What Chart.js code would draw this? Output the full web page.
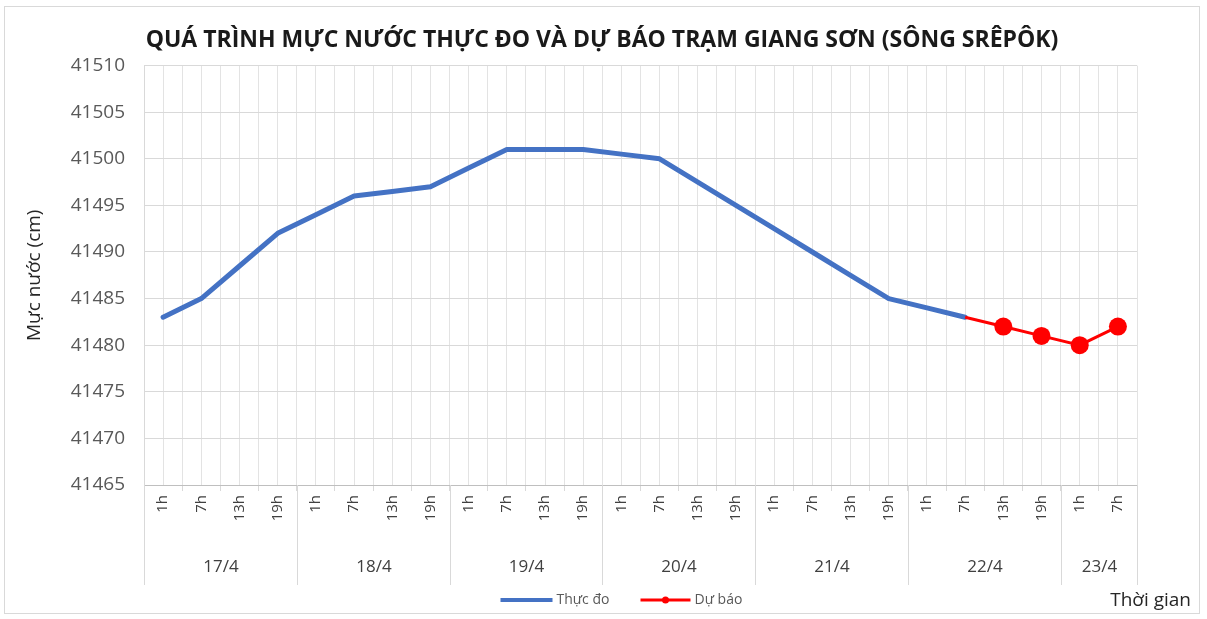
<!DOCTYPE html>
<html>
<head>
<meta charset="utf-8">
<script src="https://cdn.jsdelivr.net/npm/chart.js@4.4.1/dist/chart.umd.min.js"></script>
<style>
  html, body { margin: 0; padding: 0; background: #fff; }
  #wrap { position: absolute; left: 4px; top: 6px; width: 1196px; height: 608px;
          border: 1px solid #d9d9d9; box-sizing: border-box; }
  canvas { display: block; }
</style>
</head>
<body>
<div id="wrap"><canvas id="chart"></canvas></div>
<script>
/* ── data ─────────────────────────────────────────────────────────────── */
const hours = ['1h','7h','13h','19h', '1h','7h','13h','19h', '1h','7h','13h','19h',
               '1h','7h','13h','19h', '1h','7h','13h','19h', '1h','7h','13h','19h',
               '1h','7h'];
const days      = ['17/4','18/4','19/4','20/4','21/4','22/4','23/4'];
const dayCounts = [4, 4, 4, 4, 4, 4, 2];

const observed = [41483, 41485, 41488.5, 41492, 41494, 41496, 41496.5, 41497,
                  41499, 41501, 41501, 41501, 41500.5, 41500, 41497.5, 41495,
                  41492.5, 41490, 41487.5, 41485, 41484, 41483,
                  null, null, null, null];
const forecast = [null, null, null, null, null, null, null, null, null, null, null,
                  null, null, null, null, null, null, null, null, null, null,
                  41483, 41482, 41481, 41480, 41482];

const yMin = 41465, yMax = 41510, yStep = 5;

const TITLE  = 'QUÁ TRÌNH MỰC NƯỚC THỰC ĐO VÀ DỰ BÁO TRẠM GIANG SƠN (SÔNG SRÊPÔK)';
const Y_NAME = 'Mực nước (cm)';
const X_NAME = 'Thời gian';
const NAMES  = ['Thực đo', 'Dự báo'];

const BLUE = '#4472C4', RED = '#FF0000';
const FONT = '"Open Sans", "Noto Sans", sans-serif';
const firstForecast = forecast.findIndex(v => v !== null);

/* ── day groups, legend and axis name under the category axis ─────────── */
const groupAxis = {
  id: 'groupAxis',
  afterDraw(chart) {
    const { ctx, chartArea: a, scales: { x } } = chart;
    const step = x.getPixelForValue(1) - x.getPixelForValue(0);
    const top = a.bottom, bot = a.bottom + 100;

    ctx.save();
    ctx.strokeStyle = '#d9d9d9';
    ctx.lineWidth = 1;
    ctx.fillStyle = '#404040';
    ctx.font = '17px ' + FONT;
    ctx.textAlign = 'center';
    ctx.textBaseline = 'middle';

    let idx = 0;
    const edge = i => Math.round(x.getPixelForValue(i) - step / 2) + 0.5;
    ctx.beginPath(); ctx.moveTo(edge(0), top); ctx.lineTo(edge(0), bot); ctx.stroke();
    days.forEach((d, k) => {
      const l = edge(idx), r = edge(idx + dayCounts[k]);
      ctx.beginPath(); ctx.moveTo(r, top); ctx.lineTo(r, bot); ctx.stroke();
      ctx.fillText(d, (l + r) / 2, a.bottom + 82);
      idx += dayCounts[k];
    });

    // legend
    const ly = a.bottom + 115;
    ctx.font = '14px ' + FONT;
    ctx.textAlign = 'left';
    ctx.fillStyle = '#595959';
    let lx = (a.left + a.right) / 2 - 140;
    ctx.lineCap = 'butt';
    ctx.strokeStyle = BLUE; ctx.lineWidth = 4;
    ctx.beginPath(); ctx.moveTo(lx, ly); ctx.lineTo(lx + 52, ly); ctx.stroke();
    ctx.fillText(NAMES[0], lx + 56, ly);
    lx += 140;
    ctx.strokeStyle = RED; ctx.lineWidth = 3;
    ctx.beginPath(); ctx.moveTo(lx, ly); ctx.lineTo(lx + 50, ly); ctx.stroke();
    ctx.fillStyle = RED;
    ctx.beginPath(); ctx.arc(lx + 25, ly, 3.5, 0, Math.PI * 2); ctx.fill();
    ctx.fillStyle = '#595959';
    ctx.fillText(NAMES[1], lx + 54, ly);

    // axis name
    ctx.font = '19px ' + FONT;
    ctx.textAlign = 'right';
    ctx.fillStyle = '#262626';
    ctx.fillText(X_NAME, chart.width - 8, ly + 1);
    ctx.restore();
  }
};

/* ── chart ─────────────────────────────────────────────────────────────── */
new Chart(document.getElementById('chart'), {
  type: 'line',
  data: {
    labels: hours,
    datasets: [
      {
        label: NAMES[1], data: forecast, order: 0,
        borderColor: RED, backgroundColor: RED, borderWidth: 3,
        pointRadius: c => (c.dataIndex === firstForecast ? 0 : 9),
        pointHoverRadius: 9, pointBorderWidth: 0,
        tension: 0,
      },
      {
        label: NAMES[0], data: observed, order: 1,
        borderColor: BLUE, backgroundColor: BLUE, borderWidth: 5,
        pointRadius: 0, tension: 0,
        borderJoinStyle: 'round', borderCapStyle: 'round',
      },
    ],
  },
  options: {
    responsive: true, maintainAspectRatio: false, animation: false,
    layout: { padding: { left: 0, right: 0, top: 0, bottom: 28 } },
    plugins: {
      legend: { display: false },
      tooltip: { enabled: false },
      title: {
        display: true, text: TITLE, color: '#1a1a1a',
        font: { family: FONT, size: 23, weight: 'bold' },
        padding: { top: 20, bottom: 11 },
      },
    },
    scales: {
      x: {
        offset: true,
        grid: { offset: true, color: '#e3e3e3', tickLength: 6, tickColor: '#d9d9d9' },
        border: { color: '#bfbfbf' },
        ticks: {
          autoSkip: false, minRotation: 90, maxRotation: 90, padding: 4,
          color: '#404040', font: { family: FONT, size: 15 },
        },
        afterFit: s => { s.height = 100; },
      },
      x2: {
        offset: true, position: 'bottom',
        grid: { offset: false, color: '#e3e3e3', drawTicks: false },
        border: { display: false },
        ticks: { display: false },
        afterFit: s => { s.height = 0; },
      },
      y: {
        min: yMin, max: yMax,
        ticks: {
          stepSize: yStep, padding: 19, color: '#595959',
          font: { family: FONT, size: 19 },
          callback: v => String(v),
        },
        grid: { color: '#d9d9d9', drawTicks: false },
        border: { color: '#d9d9d9' },
        title: {
          display: true, text: Y_NAME, color: '#262626',
          font: { family: FONT, size: 19 }, padding: { top: 18, bottom: 0 },
        },
        afterFit: s => { s.width = 139; },
      },
      yRight: {
        position: 'right', display: true,
        grid: { display: false }, border: { display: false },
        ticks: { display: false },
        afterFit: s => { s.width = 62; },
      },
    },
  },
  plugins: [groupAxis],
});
</script>
</body>
</html>
